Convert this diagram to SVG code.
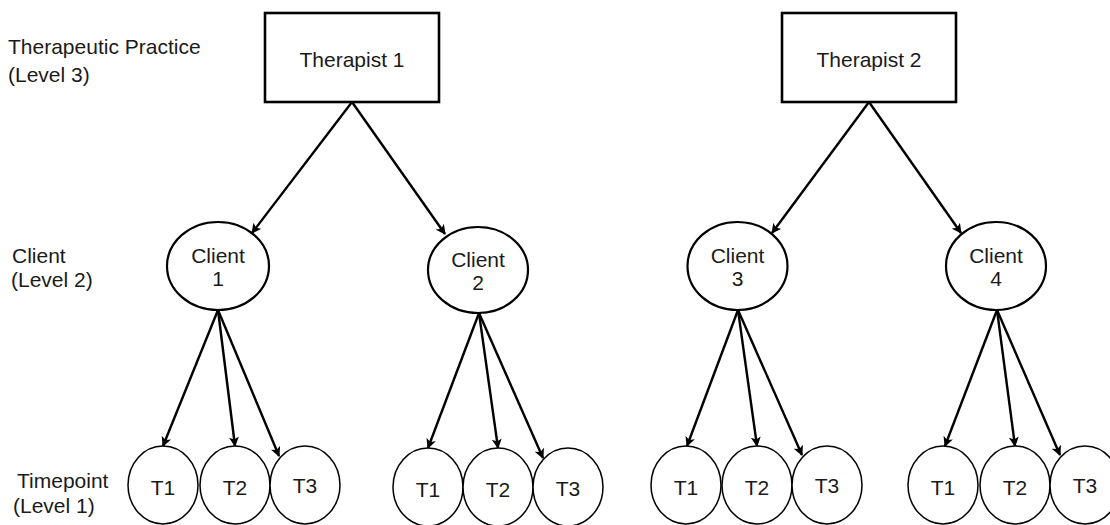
<svg xmlns="http://www.w3.org/2000/svg" width="1110" height="525" viewBox="0 0 1110 525">
<style>
text{font-family:"Liberation Sans",Arial,sans-serif;font-size:21px;fill:#1a1a1a}
.c{text-anchor:middle}
.box{fill:#fff;stroke:#000;stroke-width:2.6}
.cl{fill:#fff;stroke:#000;stroke-width:2.2}
.tp{fill:#fff;stroke:#000;stroke-width:1.5}
.e{stroke:#000;stroke-width:2.4;fill:none;marker-end:url(#ah)}
</style>
<defs>
<marker id="ah" viewBox="0 0 10 10" refX="9" refY="5" markerWidth="10" markerHeight="10" markerUnits="userSpaceOnUse" orient="auto">
<path d="M0,0 L10,5 L0,10 L2.5,5 z" fill="#000"/>
</marker>
</defs>
<rect width="1110" height="525" fill="#fff"/>
<g id="labels">
<text x="8" y="54">Therapeutic Practice</text>
<text x="8" y="82">(Level 3)</text>
<text x="12" y="263">Client</text>
<text x="11" y="287">(Level 2)</text>
<text x="17" y="488">Timepoint</text>
<text x="13" y="513">(Level 1)</text>
</g>
<g id="connectors">
<line class="e" x1="352" y1="102" x2="252" y2="233"/>
<line class="e" x1="352" y1="102" x2="445" y2="234"/>
<line class="e" x1="869" y1="102" x2="772" y2="233"/>
<line class="e" x1="869" y1="102" x2="961" y2="233"/>
<line class="e" x1="218" y1="310" x2="163" y2="446"/>
<line class="e" x1="218" y1="310" x2="235" y2="446"/>
<line class="e" x1="218" y1="310" x2="279" y2="456"/>
<line class="e" x1="479" y1="313" x2="428" y2="448"/>
<line class="e" x1="479" y1="313" x2="498" y2="448"/>
<line class="e" x1="479" y1="313" x2="543" y2="458"/>
<line class="e" x1="738" y1="310" x2="687" y2="446"/>
<line class="e" x1="738" y1="310" x2="757" y2="446"/>
<line class="e" x1="738" y1="310" x2="802" y2="455"/>
<line class="e" x1="997" y1="310" x2="945" y2="446"/>
<line class="e" x1="997" y1="310" x2="1015" y2="446"/>
<line class="e" x1="997" y1="310" x2="1060" y2="455"/>
</g>
<g id="therapist1"><rect class="box" x="265" y="13" width="174" height="89"/><text class="c" x="352" y="67">Therapist 1</text></g>
<g id="therapist2"><rect class="box" x="782" y="13" width="174" height="89"/><text class="c" x="869" y="67">Therapist 2</text></g>
<g id="client1"><ellipse class="cl" cx="218" cy="266" rx="51" ry="44"/><text class="c" x="218" y="263">Client</text><text class="c" x="218" y="286">1</text></g>
<g id="client2"><ellipse class="cl" cx="478" cy="270" rx="50" ry="43"/><text class="c" x="478" y="267">Client</text><text class="c" x="478" y="290">2</text></g>
<g id="client3"><ellipse class="cl" cx="737.5" cy="266" rx="50" ry="44"/><text class="c" x="737.5" y="263">Client</text><text class="c" x="737.5" y="286">3</text></g>
<g id="client4"><ellipse class="cl" cx="996" cy="266" rx="50" ry="44"/><text class="c" x="996" y="263">Client</text><text class="c" x="996" y="286">4</text></g>
<g id="c1t1"><ellipse class="tp" cx="163" cy="485" rx="35" ry="39"/><text class="c" x="163" y="495">T1</text></g>
<g id="c1t2"><ellipse class="tp" cx="235" cy="485" rx="35" ry="39"/><text class="c" x="235" y="495">T2</text></g>
<g id="c1t3"><ellipse class="tp" cx="305" cy="485" rx="35" ry="39"/><text class="c" x="305" y="493">T3</text></g>
<g id="c2t1"><ellipse class="tp" cx="428" cy="487" rx="35" ry="39"/><text class="c" x="428" y="497">T1</text></g>
<g id="c2t2"><ellipse class="tp" cx="498" cy="487" rx="35" ry="39"/><text class="c" x="498" y="497">T2</text></g>
<g id="c2t3"><ellipse class="tp" cx="568" cy="487" rx="35" ry="39"/><text class="c" x="568" y="496">T3</text></g>
<g id="c3t1"><ellipse class="tp" cx="686" cy="485" rx="35" ry="39"/><text class="c" x="686" y="495">T1</text></g>
<g id="c3t2"><ellipse class="tp" cx="757" cy="485" rx="35" ry="39"/><text class="c" x="757" y="495">T2</text></g>
<g id="c3t3"><ellipse class="tp" cx="827" cy="485" rx="35" ry="39"/><text class="c" x="827" y="493">T3</text></g>
<g id="c4t1"><ellipse class="tp" cx="943" cy="485" rx="35" ry="39"/><text class="c" x="943" y="495">T1</text></g>
<g id="c4t2"><ellipse class="tp" cx="1015" cy="485" rx="35" ry="39"/><text class="c" x="1015" y="495">T2</text></g>
<g id="c4t3"><ellipse class="tp" cx="1085" cy="485" rx="35" ry="39"/><text class="c" x="1085" y="493">T3</text></g>
</svg>
